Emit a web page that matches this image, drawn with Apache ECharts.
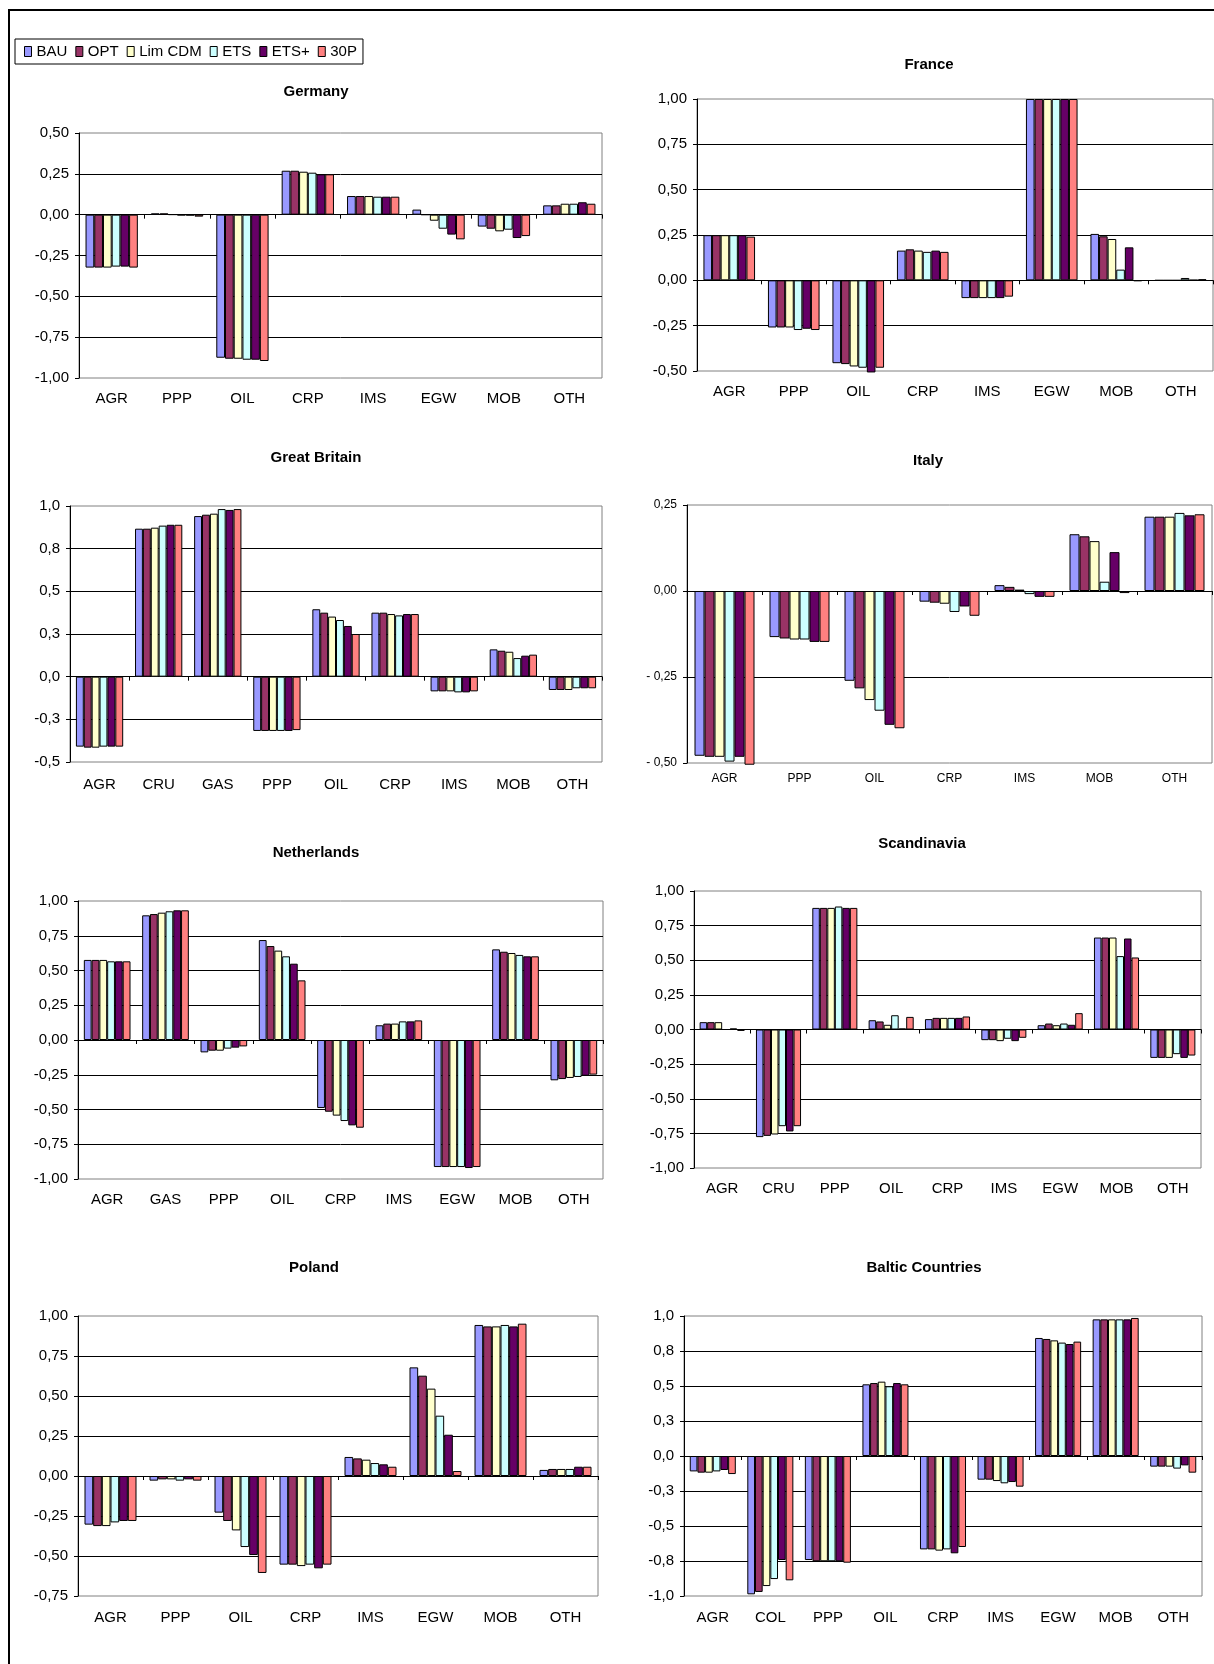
<!DOCTYPE html>
<html><head><meta charset="utf-8">
<script src="https://cdn.jsdelivr.net/npm/echarts@6/dist/echarts.min.js"></script>
<style>html,body{margin:0;padding:0;background:#fff}#c{width:1214px;height:1664px}</style>
</head><body><div id="c"></div>
<script>
// ---------- DATA ----------
const scenarios = ['BAU', 'OPT', 'Lim CDM', 'ETS', 'ETS+', '30P'];

const germanyTitle = 'Germany';
const germanyCats = ['AGR', 'PPP', 'OIL', 'CRP', 'IMS', 'EGW', 'MOB', 'OTH'];
const germanyValues = [
  [-0.324, 0.008, -0.876, 0.269, 0.114, 0.031, -0.073, 0.057],
  [-0.324, 0.008, -0.882, 0.269, 0.114, 0.000, -0.086, 0.057],
  [-0.324, 0.001, -0.882, 0.263, 0.114, -0.037, -0.102, 0.067],
  [-0.318, -0.004, -0.888, 0.257, 0.110, -0.086, -0.092, 0.067],
  [-0.318, -0.005, -0.888, 0.247, 0.110, -0.122, -0.143, 0.076],
  [-0.324, -0.012, -0.896, 0.247, 0.110, -0.151, -0.131, 0.067]
];
const germanyTicks = ['-1,00', '-0,75', '-0,50', '-0,25', '0,00', '0,25', '0,50'];

const franceTitle = 'France';
const franceCats = ['AGR', 'PPP', 'OIL', 'CRP', 'IMS', 'EGW', 'MOB', 'OTH'];
const franceValues = [
  [0.249, -0.260, -0.457, 0.164, -0.098, 1.0, 0.256, 0.000],
  [0.249, -0.260, -0.462, 0.171, -0.098, 1.0, 0.243, 0.000],
  [0.249, -0.260, -0.475, 0.164, -0.098, 1.0, 0.228, 0.000],
  [0.249, -0.274, -0.482, 0.157, -0.098, 1.0, 0.059, 0.013],
  [0.249, -0.267, -0.508, 0.164, -0.098, 1.0, 0.182, 0.002],
  [0.241, -0.274, -0.482, 0.157, -0.090, 1.0, -0.004, 0.006]
];
const franceTicks = ['-0,50', '-0,25', '0,00', '0,25', '0,50', '0,75', '1,00'];

const britainTitle = 'Great Britain';
const britainCats = ['AGR', 'CRU', 'GAS', 'PPP', 'OIL', 'CRP', 'IMS', 'MOB', 'OTH'];
const britainValues = [
  [-0.410, 0.867, 0.941, -0.318, 0.395, 0.375, -0.086, 0.160, -0.078],
  [-0.416, 0.867, 0.949, -0.318, 0.375, 0.375, -0.086, 0.152, -0.078],
  [-0.416, 0.873, 0.955, -0.318, 0.352, 0.367, -0.086, 0.146, -0.078],
  [-0.410, 0.885, 0.982, -0.318, 0.332, 0.359, -0.092, 0.109, -0.068],
  [-0.410, 0.890, 0.977, -0.318, 0.297, 0.367, -0.092, 0.123, -0.068],
  [-0.410, 0.890, 0.982, -0.313, 0.250, 0.367, -0.086, 0.129, -0.068]
];
const britainTicks = ['-0,5', '-0,3', '0,0', '0,3', '0,5', '0,8', '1,0'];

const italyTitle = 'Italy';
const italyCats = ['AGR', 'PPP', 'OIL', 'CRP', 'IMS', 'MOB', 'OTH'];
const italyValues = [
  [-0.479, -0.134, -0.261, -0.031, 0.017, 0.165, 0.216],
  [-0.482, -0.138, -0.283, -0.034, 0.012, 0.159, 0.216],
  [-0.482, -0.141, -0.317, -0.037, 0.004, 0.145, 0.216],
  [-0.496, -0.141, -0.348, -0.061, -0.009, 0.027, 0.227],
  [-0.482, -0.148, -0.389, -0.045, -0.017, 0.113, 0.220],
  [-0.505, -0.148, -0.399, -0.072, -0.017, -0.006, 0.223]
];
const italyTicks = ['- 0,50', '- 0,25', '0,00', '0,25'];

const netherlandsTitle = 'Netherlands';
const netherlandsCats = ['AGR', 'GAS', 'PPP', 'OIL', 'CRP', 'IMS', 'EGW', 'MOB', 'OTH'];
const netherlandsValues = [
  [0.576, 0.897, -0.089, 0.719, -0.489, 0.106, -0.914, 0.652, -0.290],
  [0.576, 0.906, -0.077, 0.676, -0.516, 0.118, -0.914, 0.635, -0.281],
  [0.576, 0.916, -0.077, 0.643, -0.544, 0.118, -0.914, 0.626, -0.273],
  [0.566, 0.926, -0.062, 0.602, -0.583, 0.134, -0.914, 0.612, -0.266],
  [0.566, 0.933, -0.055, 0.549, -0.614, 0.134, -0.921, 0.602, -0.257],
  [0.566, 0.933, -0.046, 0.429, -0.631, 0.141, -0.914, 0.602, -0.249]
];
const netherlandsTicks = ['-1,00', '-0,75', '-0,50', '-0,25', '0,00', '0,25', '0,50', '0,75', '1,00'];

const scandinaviaTitle = 'Scandinavia';
const scandinaviaCats = ['AGR', 'CRU', 'PPP', 'OIL', 'CRP', 'IMS', 'EGW', 'MOB', 'OTH'];
const scandinaviaValues = [
  [0.053, -0.777, 0.878, 0.067, 0.075, -0.077, 0.031, 0.664, -0.205],
  [0.053, -0.768, 0.878, 0.058, 0.084, -0.077, 0.043, 0.664, -0.205],
  [0.053, -0.758, 0.878, 0.034, 0.084, -0.084, 0.031, 0.664, -0.205],
  [0.000, -0.698, 0.888, 0.103, 0.084, -0.067, 0.043, 0.530, -0.178],
  [0.007, -0.736, 0.878, 0.007, 0.084, -0.084, 0.034, 0.657, -0.205],
  [-0.010, -0.698, 0.878, 0.091, 0.094, -0.060, 0.118, 0.520, -0.188]
];
const scandinaviaTicks = ['-1,00', '-0,75', '-0,50', '-0,25', '0,00', '0,25', '0,50', '0,75', '1,00'];

const polandTitle = 'Poland';
const polandCats = ['AGR', 'PPP', 'OIL', 'CRP', 'IMS', 'EGW', 'MOB', 'OTH'];
const polandValues = [
  [-0.304, -0.029, -0.229, -0.554, 0.119, 0.679, 0.944, 0.038],
  [-0.313, -0.021, -0.281, -0.554, 0.110, 0.627, 0.935, 0.044],
  [-0.313, -0.021, -0.340, -0.563, 0.102, 0.546, 0.935, 0.044],
  [-0.290, -0.029, -0.444, -0.554, 0.081, 0.377, 0.944, 0.044],
  [-0.281, -0.021, -0.494, -0.577, 0.073, 0.258, 0.935, 0.058],
  [-0.281, -0.029, -0.606, -0.554, 0.058, 0.031, 0.952, 0.058]
];
const polandTicks = ['-0,75', '-0,50', '-0,25', '0,00', '0,25', '0,50', '0,75', '1,00'];

const balticTitle = 'Baltic Countries';
const balticCats = ['AGR', 'COL', 'PPP', 'OIL', 'CRP', 'IMS', 'EGW', 'MOB', 'OTH'];
const balticValues = [
  [-0.110, -0.988, -0.743, 0.512, -0.667, -0.169, 0.843, 0.976, -0.076],
  [-0.119, -0.971, -0.752, 0.521, -0.667, -0.169, 0.836, 0.976, -0.076],
  [-0.119, -0.929, -0.752, 0.531, -0.676, -0.179, 0.826, 0.976, -0.076],
  [-0.110, -0.879, -0.752, 0.498, -0.667, -0.195, 0.810, 0.976, -0.090],
  [-0.100, -0.743, -0.752, 0.521, -0.695, -0.186, 0.800, 0.976, -0.067],
  [-0.129, -0.888, -0.762, 0.512, -0.650, -0.219, 0.817, 0.986, -0.119]
];
const balticTicks = ['-1,0', '-0,8', '-0,5', '-0,3', '0,0', '0,3', '0,5', '0,8', '1,0'];

// ---------- STYLE / LAYOUT ----------
const scenarioColors = ['#9999FF', '#993366', '#FFFFCC', '#CCFFFF', '#660066', '#FF8080'];
const FONT = '"Liberation Sans", Arial, sans-serif';

const charts = [
  { title: germanyTitle, cats: germanyCats, values: germanyValues, ticks: germanyTicks, min: -1, max: 0.5,
    box: [79, 133, 602, 378], tpos: [316, 92], fs: 15, margin: 13 },
  { title: franceTitle, cats: franceCats, values: franceValues, ticks: franceTicks, min: -0.5, max: 1,
    box: [697, 99, 1213, 371], tpos: [929, 65], fs: 15, margin: 13 },
  { title: britainTitle, cats: britainCats, values: britainValues, ticks: britainTicks, min: -0.5, max: 1,
    box: [70, 506, 602, 762], tpos: [316, 458], fs: 15, margin: 15 },
  { title: italyTitle, cats: italyCats, values: italyValues, ticks: italyTicks, min: -0.5, max: 0.25,
    box: [687, 505, 1212, 763], tpos: [928, 461], fs: 12, margin: 10 },
  { title: netherlandsTitle, cats: netherlandsCats, values: netherlandsValues, ticks: netherlandsTicks, min: -1, max: 1,
    box: [78, 901, 603, 1179], tpos: [316, 853], fs: 15, margin: 13 },
  { title: scandinaviaTitle, cats: scandinaviaCats, values: scandinaviaValues, ticks: scandinaviaTicks, min: -1, max: 1,
    box: [694, 891, 1201, 1168], tpos: [922, 844], fs: 15, margin: 13 },
  { title: polandTitle, cats: polandCats, values: polandValues, ticks: polandTicks, min: -0.75, max: 1,
    box: [78, 1316, 598, 1596], tpos: [314, 1268], fs: 15, margin: 14 },
  { title: balticTitle, cats: balticCats, values: balticValues, ticks: balticTicks, min: -1, max: 1,
    box: [684, 1316, 1202, 1596], tpos: [924, 1268], fs: 15, margin: 14 }
];
const STEP = 0.25;

const grid = [], xAxis = [], yAxis = [], series = [];
const graphic = [
  { type: 'line', shape: { x1: 8, y1: 10, x2: 1214, y2: 10 }, style: { stroke: '#000', lineWidth: 2 }, silent: true },
  { type: 'line', shape: { x1: 9, y1: 9, x2: 9, y2: 1664 }, style: { stroke: '#000', lineWidth: 2 }, silent: true }
];

charts.forEach((c, i) => {
  const [l, t, r, b] = c.box;
  grid.push({ left: l, top: t, width: r - l, height: b - t, show: true,
    borderColor: '#808080', borderWidth: 1, backgroundColor: '#fff', containLabel: false });
  // label axis at bottom
  xAxis.push({ type: 'category', gridIndex: i, data: c.cats, position: 'bottom',
    axisLine: { show: false, onZero: false }, axisTick: { show: false },
    axisLabel: { interval: 0, margin: c.margin, fontSize: c.fs, color: '#000', fontFamily: FONT },
    splitLine: { show: false } });
  // zero line with ticks
  xAxis.push({ type: 'category', gridIndex: i, data: c.cats, position: 'top',
    axisLine: { show: true, onZero: true, lineStyle: { color: '#000', width: 1 } },
    axisTick: { show: true, inside: true, length: 4, alignWithLabel: false, interval: 0,
      lineStyle: { color: '#000', width: 1 } },
    axisLabel: { show: false }, splitLine: { show: false } });
  yAxis.push({ type: 'value', gridIndex: i, min: c.min, max: c.max, interval: STEP,
    axisLine: { show: true, onZero: false, lineStyle: { color: '#000', width: 1 } },
    axisTick: { show: true, length: 4, lineStyle: { color: '#000' } },
    axisLabel: { margin: 10, fontSize: c.fs, color: '#000', fontFamily: FONT,
      formatter: (v) => c.ticks[Math.round((v - c.min) / STEP)] },
    splitLine: { show: true, showMinLine: false, showMaxLine: false, lineStyle: { color: '#000', width: 1 } } });
  scenarios.forEach((name, j) => {
    series.push({ type: 'bar', name: name, xAxisIndex: 2 * i, yAxisIndex: i, data: c.values[j],
      barGap: 0, barCategoryGap: '20%', clip: false, silent: true,
      itemStyle: { color: scenarioColors[j], borderColor: '#000', borderWidth: 1 } });
  });
  graphic.push({ type: 'text', x: c.tpos[0], y: c.tpos[1], silent: true,
    style: { text: c.title, font: 'bold 15px ' + FONT, fill: '#000',
      textAlign: 'center', textVerticalAlign: 'middle', align: 'center', verticalAlign: 'middle' } });
});

const chart = echarts.init(document.getElementById('c'), null, { renderer: 'canvas' });
chart.setOption({
  animation: false,
  backgroundColor: '#fff',
  textStyle: { fontFamily: FONT },
  legend: { data: scenarios, left: 15, top: 39, orient: 'horizontal',
    padding: [5, 6, 5, 9], itemWidth: 7, itemHeight: 10, itemGap: 8,
    icon: 'rect', borderColor: '#000', borderWidth: 1, backgroundColor: '#fff',
    textStyle: { fontSize: 15, color: '#000', fontFamily: FONT },
    itemStyle: { borderColor: '#000', borderWidth: 1 }, selectedMode: false },
  grid, xAxis, yAxis, series, graphic
});
</script></body></html>
